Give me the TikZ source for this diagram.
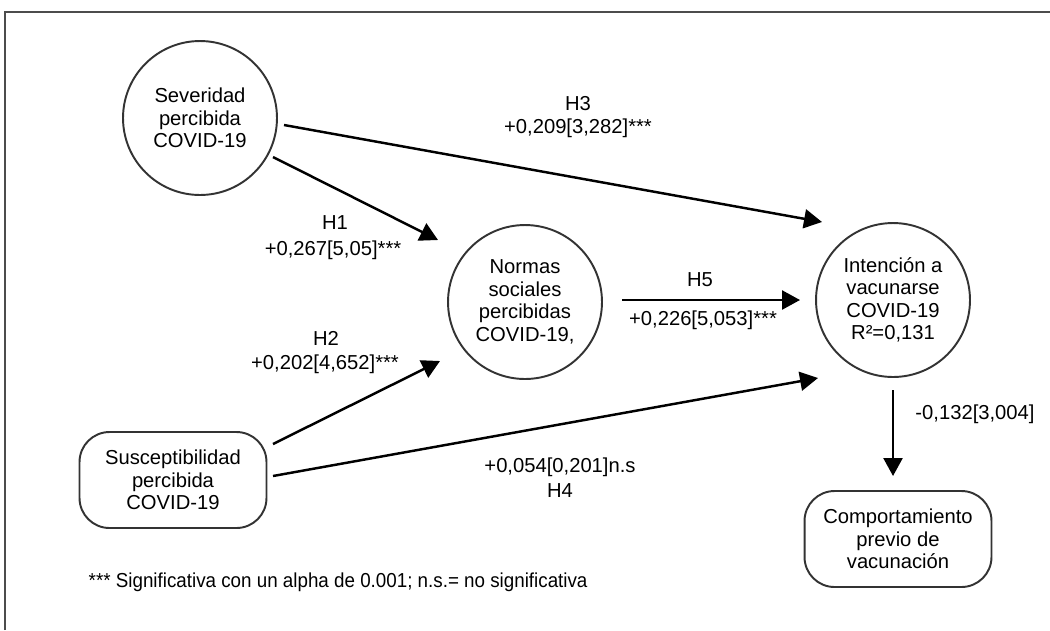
\documentclass[tikz,border=0pt]{standalone}
\usepackage{fontspec}
\setmainfont{Liberation Sans}
\usetikzlibrary{arrows.meta,calc}

\begin{document}
\begin{tikzpicture}[x=0.02cm, y=-0.02cm, line width=1pt,
  font=\fontsize{11.5}{12.8}\selectfont,
  circ/.style={circle, draw=black!80, line width=1.1pt, minimum size=3.08cm,
    inner sep=0pt, align=center},
  rbox/.style={rectangle, rounded corners=0.6cm, draw=black!80, line width=1.1pt,
    minimum width=3.74cm, minimum height=1.92cm, align=center},
  arr/.style={-{Triangle[length=0.36cm, width=0.38cm]}, line width=1.4pt}]
  \useasboundingbox (0,0) rectangle (1050,630);
  \draw[black!70] (5,630) -- (5,12) -- (1050,12);
  % constructs
  \node[circ] (sev) at (200,118) {Severidad\\percibida\\COVID-19};
  \node[circ] (norm) at (525,302) {Normas\\sociales\\percibidas\\COVID-19,};
  \node[circ] (int) at (893,300) {Intención a\\vacunarse\\COVID-19\\R²=0,131};
  \node[rbox] (sus) at (173,480) {Susceptibilidad\\percibida\\COVID-19};
  \node[rbox] (comp) at (898,539) {Comportamiento\\previo de\\vacunación};
  % paths
  \draw[arr] ($(sev)+(84,7)$) -- ($(int)+(-71,-78)$);
  \draw[arr] ($(sev)+(73,39)$) -- ($(norm)+(-87,-62)$);
  \draw[arr] ($(norm)+(97,-2)$) -- ($(int)+(-93,0)$);
  \draw[arr] ($(sus)+(100,-36)$) -- ($(norm)+(-85,59)$);
  \draw[arr] ($(sus)+(100,-4)$) -- ($(int)+(-75,78)$);
  \draw[arr] ($(int)+(0,90)$) -- ($(int)+(0,176)$);
  % coefficients
  \node (h3) at (578,104) {H3};
  \node (c3) at (578,128) {+0,209[3,282]***};
  \node (h1) at (335,223) {H1};
  \node (c1) at (333,250) {+0,267[5,05]***};
  \node (h2) at (326,338) {H2};
  \node (c2) at (325,364) {+0,202[4,652]***};
  \node (h5) at (700,280) {H5};
  \node (c5) at (703,320) {+0,226[5,053]***};
  \node (c4) at (560,467) {+0,054[0,201]n.s};
  \node (h4) at (560,491) {H4};
  \node (c6) at (975,414) {-0,132[3,004]};
  \node[anchor=west] (nota) at (82,582) {\scalebox{0.93}[1]{*** Significativa con un alpha de 0.001; n.s.= no significativa}};
\end{tikzpicture}
\end{document}
